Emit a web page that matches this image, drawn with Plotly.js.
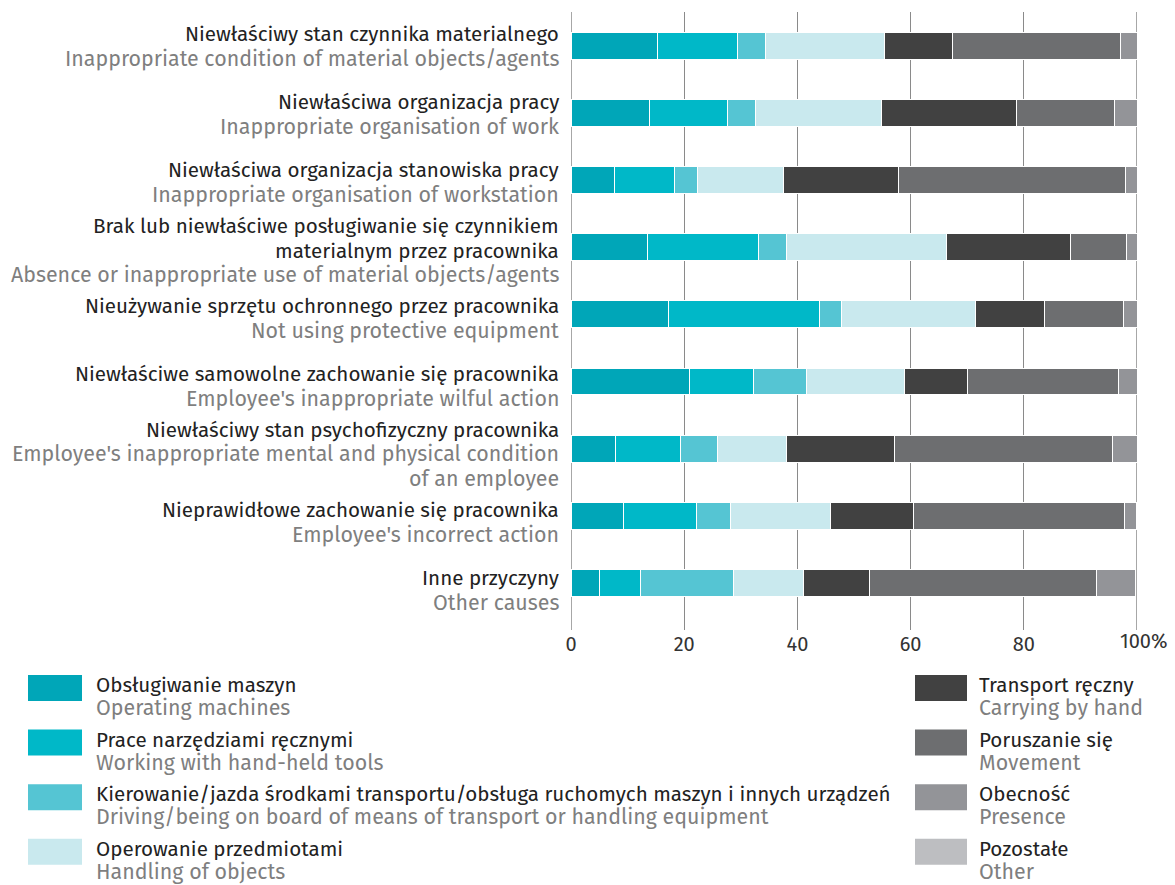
<!DOCTYPE html>
<html>
<head>
<meta charset="utf-8">
<script src="https://cdn.plot.ly/plotly-3.0.1.min.js"></script>
<style>html,body{margin:0;padding:0;background:#fff;}#chart{width:1175px;height:885px;}</style>
</head>
<body>
<div id="chart"></div>
<script>
// ---- data ----
const categoriesPL = [
  ["Niewłaściwy stan czynnika materialnego"],
  ["Niewłaściwa organizacja pracy"],
  ["Niewłaściwa organizacja stanowiska pracy"],
  ["Brak lub niewłaściwe posługiwanie się czynnikiem", "materialnym przez pracownika"],
  ["Nieużywanie sprzętu ochronnego przez pracownika"],
  ["Niewłaściwe samowolne zachowanie się pracownika"],
  ["Niewłaściwy stan psychofizyczny pracownika"],
  ["Nieprawidłowe zachowanie się pracownika"],
  ["Inne przyczyny"]
];
const categoriesEN = [
  ["Inappropriate condition of material objects/agents"],
  ["Inappropriate organisation of work"],
  ["Inappropriate organisation of workstation"],
  ["Absence or inappropriate use of material objects/agents"],
  ["Not using protective equipment"],
  ["Employee's inappropriate wilful action"],
  ["Employee's inappropriate mental and physical condition", "of an employee"],
  ["Employee's incorrect action"],
  ["Other causes"]
];
const seriesPL = ["Obsługiwanie maszyn","Prace narzędziami ręcznymi","Kierowanie/jazda środkami transportu/obsługa ruchomych maszyn i innych urządzeń","Operowanie przedmiotami","Transport ręczny","Poruszanie się","Obecność","Pozostałe"];
const seriesEN = ["Operating machines","Working with hand-held tools","Driving/being on board of means of transport or handling equipment","Handling of objects","Carrying by hand","Movement","Presence","Other"];
const colors = ["#00a6b8","#00b8c8","#55c5d3","#c9e9ee","#414141","#6d6e70","#939498","#bdbec1"];

const operatingMachines = [15.2, 13.8, 7.6, 13.6, 17.2, 20.9, 7.8, 9.3, 5.0];
const handHeldTools     = [14.3, 13.8, 10.6, 19.6, 26.7, 11.3, 11.5, 12.9, 7.2];
const driving           = [4.8, 5.0, 4.2, 4.9, 3.9, 9.4, 6.6, 6.0, 16.5];
const handlingObjects   = [21.0, 22.2, 15.2, 28.2, 23.7, 17.4, 12.1, 17.6, 12.4];
const carryingByHand    = [12.1, 23.9, 20.3, 21.9, 12.1, 11.0, 19.2, 14.7, 11.6];
const movement          = [29.7, 17.4, 40.1, 10.0, 14.1, 26.8, 38.4, 37.3, 40.2];
const presence          = [2.9, 3.9, 2.0, 1.8, 2.3, 3.2, 4.4, 2.1, 6.9];
const other             = [0, 0, 0, 0, 0, 0, 0, 0, 0];
const seriesValues = [operatingMachines, handHeldTools, driving, handlingObjects, carryingByHand, movement, presence, other];

const tickVals = [0, 20, 40, 60, 80, 100];
const tickText = ["0", "20", "40", "60", "80", ""];
const lastTickText = "100%";

// ---- layout geometry ----
const L = 571, W = 566, T = 12, H = 618;
const FW = 1175, FH = 885;
const px = x => (x - L) / W;
const py = y => (T + H - y) / H;
const FONT = "Fira Sans, Open Sans, sans-serif";
const DARK = "#222222", GREY = "#7f7f7f";
const PL_SIZE = 20.6, EN_SIZE = 21.4, LINE = 24.5;

const yIdx = categoriesPL.map((_, i) => i);

const traces = seriesValues.map((vals, s) => ({
  type: "bar",
  orientation: "h",
  x: vals,
  y: yIdx,
  name: seriesPL[s],
  marker: {color: colors[s], line: {color: "#ffffff", width: 1}},
  showlegend: false,
  hoverinfo: "x+name"
}));

const annotations = [];
categoriesPL.forEach((pl, i) => {
  const lines = pl.map(t => ({t, c: DARK, s: PL_SIZE})).concat(categoriesEN[i].map(t => ({t, c: GREY, s: EN_SIZE})));
  const n = lines.length;
  lines.forEach((ln, k) => {
    const off = (k - (n - 1) / 2) * LINE + 1 + 0.8 * i;
    annotations.push({
      xref: "paper", yref: "y", x: px(561), y: i, yshift: -off,
      xanchor: "right", yanchor: "middle", align: "right",
      showarrow: false, text: ln.t,
      font: {family: FONT, size: ln.s, color: ln.c}
    });
  });
});

// last tick label ("100" centred on the tick, "%" hanging to the right)
annotations.push({
  xref: "x", yref: "paper", x: 100, y: py(641), xshift: 7,
  xanchor: "center", yanchor: "middle", showarrow: false, text: lastTickText,
  font: {family: FONT, size: 20, color: "#333333"}
});

const shapes = [
  {type: "line", xref: "x", yref: "paper", x0: 0, x1: 0, y0: 0, y1: 1, line: {color: "#8a8a8a", width: 1.5}, layer: "below"},
  {type: "line", xref: "x", yref: "paper", x0: 100, x1: 100, y0: 0, y1: 1, line: {color: "#8a8a8a", width: 1.5}, layer: "below"}
];

// legend built from series arrays
seriesPL.forEach((name, s) => {
  const col = s < 4 ? 0 : 1;
  const row = s % 4;
  const sx0 = col === 0 ? 28 : 915;
  const sx1 = col === 0 ? 82 : 967;
  const tx = col === 0 ? 94 : 977;
  const top = 675 + row * 54.6;
  shapes.push({type: "rect", xref: "paper", yref: "paper",
    x0: px(sx0), x1: px(sx1), y0: py(top + 26), y1: py(top),
    fillcolor: colors[s], line: {width: 0}});
  annotations.push({
    xref: "paper", yref: "paper", x: px(tx), y: py(top + 10),
    xanchor: "left", yanchor: "middle", align: "left", showarrow: false,
    text: name, font: {family: FONT, size: PL_SIZE, color: DARK}
  });
  annotations.push({
    xref: "paper", yref: "paper", x: px(tx), y: py(top + 33),
    xanchor: "left", yanchor: "middle", align: "left", showarrow: false,
    text: seriesEN[s], font: {family: FONT, size: EN_SIZE, color: GREY}
  });
});

const layout = {
  width: FW, height: FH,
  margin: {l: L, r: FW - L - W, t: T, b: FH - T - H, pad: 0},
  paper_bgcolor: "#ffffff", plot_bgcolor: "#ffffff",
  barmode: "stack",
  bargap: 0.6,
  font: {family: FONT, size: 20, color: "#333333"},
  xaxis: {
    range: [0, 100], tickvals: tickVals, ticktext: tickText,
    showgrid: true, gridcolor: "#8a8a8a", gridwidth: 1,
    zeroline: false, showline: false, ticks: "",
    tickfont: {family: FONT, size: 20, color: "#333333"},
    fixedrange: true
  },
  yaxis: {
    range: [8.7, -0.5], showticklabels: false, showgrid: false,
    zeroline: false, showline: false, ticks: "", fixedrange: true
  },
  shapes: shapes,
  annotations: annotations,
  showlegend: false
};

Plotly.newPlot("chart", traces, layout, {displayModeBar: false, staticPlot: true});
</script>
</body>
</html>
